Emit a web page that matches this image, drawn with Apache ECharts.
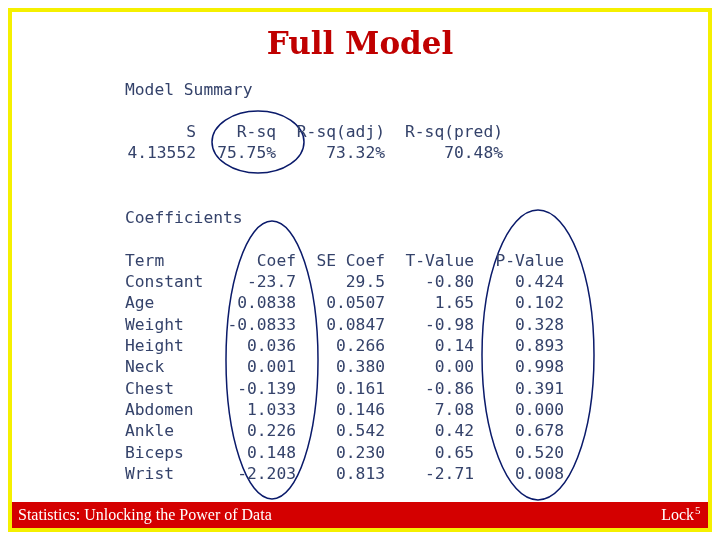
<!doctype html>
<html lang="en">
<head>
<meta charset="utf-8">
<title>Full Model</title>
<script src="https://cdn.jsdelivr.net/npm/echarts@6/dist/echarts.min.js"></script>
<style>
  html, body { margin: 0; padding: 0; background: #fff; }
  #chart { width: 720px; height: 540px; }
</style>
</head>
<body>
<div id="chart"></div>
<script>
// summary table
var summaryHeaders = ['S', 'R-sq', 'R-sq(adj)', 'R-sq(pred)'];
var summaryValues = ['4.13552', '75.75%', '73.32%', '70.48%'];

// coefficients table
var coefHeaders = ['Term', 'Coef', 'SE Coef', 'T-Value', 'P-Value'];
var terms = ['Constant', 'Age', 'Weight', 'Height', 'Neck', 'Chest', 'Abdomen', 'Ankle', 'Biceps', 'Wrist'];
var coef = ['-23.7', '0.0838', '-0.0833', '0.036', '0.001', '-0.139', '1.033', '0.226', '0.148', '-2.203'];
var seCoef = ['29.5', '0.0507', '0.0847', '0.266', '0.380', '0.161', '0.146', '0.542', '0.230', '0.813'];
var tValue = ['-0.80', '1.65', '-0.98', '0.14', '0.00', '-0.86', '7.08', '0.42', '0.65', '-2.71'];
var pValue = ['0.424', '0.102', '0.328', '0.893', '0.998', '0.391', '0.000', '0.678', '0.520', '0.008'];

// layout: right edges of columns (pixels)
var summaryCols = [196, 276, 385, 503];
var coefCols = [125, 296, 385, 474, 564];

var textColor = '#34426a';
var mono = 'DejaVu Sans Mono';
var monoSize = 16.3;

var chart = echarts.init(document.getElementById('chart'), null, { renderer: 'canvas' });

function cell(x, row, text, leftAlign) {
  return {
    value: [x, row],
    label: {
      show: true, formatter: text, position: [0, 0],
      align: leftAlign ? 'left' : 'right', verticalAlign: 'middle',
      color: textColor, fontFamily: mono, fontSize: monoSize, opacity: 1
    }
  };
}

var summaryData = [];
summaryHeaders.forEach(function (h, i) { summaryData.push(cell(summaryCols[i], 'h', h)); });
summaryValues.forEach(function (v, i) { summaryData.push(cell(summaryCols[i], 'v', v)); });

var coefRows = ['Term'].concat(terms);
var coefData = [];
coefHeaders.forEach(function (h, i) { coefData.push(cell(coefCols[i], 'Term', h, i === 0)); });
terms.forEach(function (t, r) {
  coefData.push(cell(coefCols[0], t, t, true));
  coefData.push(cell(coefCols[1], t, coef[r]));
  coefData.push(cell(coefCols[2], t, seCoef[r]));
  coefData.push(cell(coefCols[3], t, tValue[r]));
  coefData.push(cell(coefCols[4], t, pValue[r]));
});

var hiddenX = { type: 'value', min: 0, max: 720, show: false };
var monoFont = monoSize + 'px "DejaVu Sans Mono"';
var option = {
  animation: false,
  grid: [
    { left: 0, right: 0, top: 122.5, bottom: 375.5 },
    { left: 0, right: 0, top: 251, bottom: 54.7 }
  ],
  xAxis: [
    Object.assign({ gridIndex: 0 }, hiddenX),
    Object.assign({ gridIndex: 1 }, hiddenX)
  ],
  yAxis: [
    { gridIndex: 0, type: 'category', data: ['h', 'v'], inverse: true, show: false },
    { gridIndex: 1, type: 'category', data: coefRows, inverse: true, show: false }
  ],
  series: [
    { type: 'scatter', xAxisIndex: 0, yAxisIndex: 0, symbolSize: 0, itemStyle: { opacity: 1 },
      data: summaryData, silent: true },
    { type: 'scatter', xAxisIndex: 1, yAxisIndex: 1, symbolSize: 0, itemStyle: { opacity: 1 },
      data: coefData, silent: true }
  ],
  graphic: [
    { type: 'rect', shape: { x: 10, y: 10, width: 700, height: 520 },
      style: { fill: 'none', stroke: '#f5f000', lineWidth: 4 } },
    { type: 'rect', shape: { x: 12, y: 502, width: 696, height: 26 }, style: { fill: '#d40000' } },
    { type: 'text', x: 18, y: 516, style: { text: 'Statistics: Unlocking the Power of Data', fill: '#fff',
      font: '16px "Liberation Serif"', verticalAlign: 'middle' } },
    { type: 'text', x: 694, y: 516, style: { text: 'Lock', fill: '#fff',
      font: '16px "Liberation Serif"', verticalAlign: 'middle', align: 'right' } },
    { type: 'text', x: 695, y: 511, style: { text: '5', fill: '#fff',
      font: '11px "Liberation Serif"', verticalAlign: 'middle', align: 'left' } },
    { type: 'text', x: 360, y: 46, style: { text: 'Full Model', fill: '#c00000',
      font: 'bold 31px "DejaVu Serif"', align: 'center', verticalAlign: 'middle' } },
    { type: 'text', x: 125, y: 91, style: { text: 'Model Summary', fill: textColor,
      font: monoFont, verticalAlign: 'middle' } },
    { type: 'text', x: 125, y: 219, style: { text: 'Coefficients', fill: textColor,
      font: monoFont, verticalAlign: 'middle' } },
    { type: 'ellipse', shape: { cx: 258, cy: 142, rx: 46, ry: 31 },
      style: { fill: 'none', stroke: '#0a1a6a', lineWidth: 1.5 } },
    { type: 'ellipse', shape: { cx: 272, cy: 360, rx: 46, ry: 139 },
      style: { fill: 'none', stroke: '#0a1a6a', lineWidth: 1.5 } },
    { type: 'ellipse', shape: { cx: 538, cy: 355, rx: 56, ry: 145 },
      style: { fill: 'none', stroke: '#0a1a6a', lineWidth: 1.5 } }
  ]
};
chart.setOption(option);
</script>
</body>
</html>
